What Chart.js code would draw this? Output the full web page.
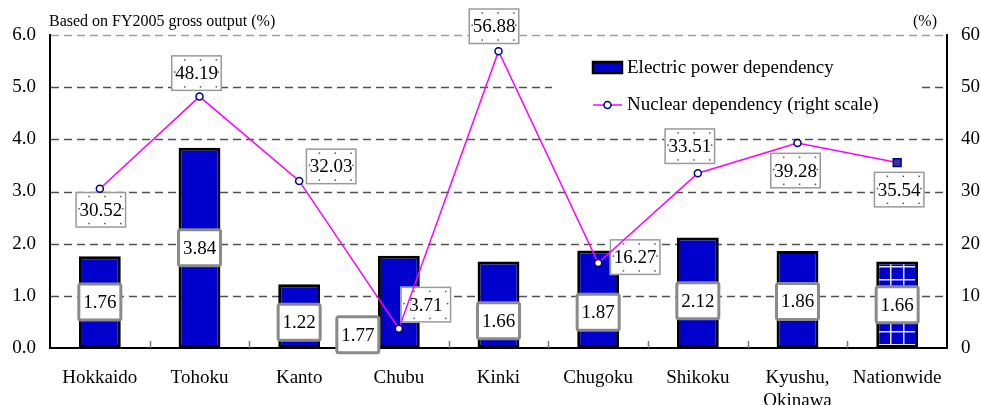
<!DOCTYPE html>
<html>
<head>
<meta charset="utf-8">
<script src="https://cdn.jsdelivr.net/npm/chart.js@4.4.1/dist/chart.umd.min.js"></script>
<style>
  html, body { margin: 0; padding: 0; background: #fff; }
  #wrap { width: 981px; height: 405px; position: relative; }
</style>
</head>
<body>
<div id="wrap"><canvas id="c"></canvas></div>
<script>
// Regions and values
const categories = ['Hokkaido', 'Tohoku', 'Kanto', 'Chubu', 'Kinki', 'Chugoku', 'Shikoku', ['Kyushu,', 'Okinawa'], 'Nationwide'];
const electricPowerDependency = [1.76, 3.84, 1.22, 1.77, 1.66, 1.87, 2.12, 1.86, 1.66];
const nuclearDependency = [30.52, 48.19, 32.03, 3.71, 56.88, 16.27, 33.51, 39.28, 35.54];
const leftTickLabels = ['0.0', '1.0', '2.0', '3.0', '4.0', '5.0', '6.0'];
const rightTickLabels = ['0', '10', '20', '30', '40', '50', '60'];

// Label placement (pixel shifts): bar labels relative to bar middle, line labels relative to point
const barLabelShift = [[0, 0], [0, 0], [0, 6], [-41, 33], [0, 16], [0, 13], [0, 8], [0, 2], [0, 0]];
const lineLabelShift = [[1, 21], [-3, -23.5], [32, -14.5], [27, -24], [-4.5, -25], [37, -6], [-8, -27], [-2, 27.5], [2, 27]];

const SERIF = "'Liberation Serif', 'Times New Roman', Times, serif";
const BLUE = '#0000CC';
const MAGENTA = '#FF00FF';
const NAVY = '#000080';

Chart.defaults.font.family = SERIF;
Chart.defaults.color = '#000';

// Plaid fill for the nationwide bar
function plaidPattern() {
  const t = document.createElement('canvas');
  t.width = 13; t.height = 13;
  const g = t.getContext('2d');
  g.fillStyle = BLUE;
  g.fillRect(0, 0, 13, 13);
  g.fillStyle = 'rgba(225,225,255,1)';
  g.fillRect(6, 0, 1.5, 13);
  g.fillRect(0, 6, 13, 1.5);
  return g.createPattern(t, 'repeat');
}
const barFills = electricPowerDependency.map((_, i) => i === electricPowerDependency.length - 1 ? plaidPattern() : BLUE);

function barLabel(ctx, cx, cy, text) {
  const w = 45, h = 39;
  const x = cx - w / 2, y = cy - h / 2;
  ctx.save();
  ctx.beginPath();
  ctx.roundRect(x + 1.5, y + 1.5, w - 3, h - 3, 2);
  ctx.fillStyle = '#fff';
  ctx.fill();
  ctx.lineWidth = 3;
  ctx.strokeStyle = '#8a8a8a';
  ctx.stroke();
  ctx.fillStyle = '#000';
  ctx.font = '19px ' + SERIF;
  ctx.textAlign = 'center';
  ctx.textBaseline = 'middle';
  ctx.fillText(text, cx, cy + 1);
  ctx.restore();
}

function lineLabel(ctx, cx, cy, text) {
  const w = 51, h = 36;
  const x = cx - w / 2, y = cy - h / 2;
  ctx.save();
  ctx.fillStyle = '#fff';
  ctx.fillRect(x, y, w, h);
  ctx.lineWidth = 1.5;
  ctx.strokeStyle = '#9a9a9a';
  ctx.strokeRect(x + 0.75, y + 0.75, w - 1.5, h - 1.5);
  // dotted texture
  ctx.fillStyle = '#555';
  [0.27, 0.58, 0.89].forEach(f => {
    ctx.fillRect(x + w * f - 0.75, y + 4, 1.5, 1.5);
    ctx.fillRect(x + w * f - 0.75, y + h - 5, 1.5, 1.5);
  });
  ctx.fillRect(x + 3, y + h * 0.45, 1.5, 1.5);
  ctx.fillRect(x + w - 4.5, y + h * 0.45, 1.5, 1.5);
  ctx.fillStyle = '#000';
  ctx.font = '19px ' + SERIF;
  ctx.textAlign = 'center';
  ctx.textBaseline = 'middle';
  ctx.fillText(text, cx, cy + 1);
  ctx.restore();
}

const decorations = {
  id: 'decorations',
  beforeDatasetsDraw(chart) {
    const { ctx, chartArea: a, scales } = chart;
    const y = scales.y, x = scales.x;
    ctx.save();
    // dashed grid
    ctx.setLineDash([8, 5]);
    ctx.lineWidth = 1.5;
    for (let v = 1; v <= 6; v++) {
      const py = Math.round(y.getPixelForValue(v)) + 0.5;
      ctx.strokeStyle = v === 6 ? '#a0a0a0' : '#505050';
      ctx.beginPath();
      ctx.moveTo(a.left + 1, py);
      ctx.lineTo(a.right - 1, py);
      ctx.stroke();
    }
    ctx.setLineDash([]);
    // category separators on the baseline
    ctx.strokeStyle = '#777';
    ctx.lineWidth = 1.5;
    for (let i = 0; i < categories.length - 1; i++) {
      const px = Math.round((x.getPixelForValue(i) + x.getPixelForValue(i + 1)) / 2) + 0.5;
      ctx.beginPath();
      ctx.moveTo(px, a.bottom);
      ctx.lineTo(px, a.bottom - 7);
      ctx.stroke();
    }
    // legend backing
    ctx.fillStyle = '#fff';
    ctx.fillRect(552, 40, 370, 92);
    // axis notes
    ctx.fillStyle = '#000';
    ctx.font = '16px ' + SERIF;
    ctx.textBaseline = 'alphabetic';
    ctx.textAlign = 'left';
    ctx.fillText('Based on FY2005 gross output (%)', 49, 26);
    ctx.textAlign = 'right';
    ctx.fillText('(%)', 937, 26);
    ctx.restore();
  },
  afterDatasetDraw(chart, args) {
    if (args.index !== 0) return;
    const { ctx, scales } = chart;
    const barMeta = chart.getDatasetMeta(0);
    const lineMeta = chart.getDatasetMeta(1);
    electricPowerDependency.forEach((v, i) => {
      const bx = barMeta.data[i].x;
      const my = scales.y.getPixelForValue(v / 2);
      barLabel(ctx, bx + barLabelShift[i][0], my + barLabelShift[i][1], v.toFixed(2));
    });
    nuclearDependency.forEach((v, i) => {
      const p = lineMeta.data[i];
      lineLabel(ctx, p.x + lineLabelShift[i][0], p.y + lineLabelShift[i][1], v.toFixed(2));
    });
  },
  afterDraw(chart) {
    const { ctx } = chart;
    ctx.save();
    // bar legend entry
    ctx.fillStyle = BLUE;
    ctx.fillRect(593, 62, 29, 11);
    ctx.lineWidth = 2.5;
    ctx.strokeStyle = '#000';
    ctx.strokeRect(593, 62, 29, 11);
    // line legend entry
    ctx.strokeStyle = MAGENTA;
    ctx.lineWidth = 1.5;
    ctx.beginPath();
    ctx.moveTo(593, 105);
    ctx.lineTo(622, 105);
    ctx.stroke();
    ctx.beginPath();
    ctx.arc(607.5, 105, 3.5, 0, Math.PI * 2);
    ctx.fillStyle = '#fff';
    ctx.fill();
    ctx.strokeStyle = NAVY;
    ctx.stroke();
    ctx.fillStyle = '#000';
    ctx.font = '19px ' + SERIF;
    ctx.textAlign = 'left';
    ctx.textBaseline = 'middle';
    ctx.fillText('Electric power dependency', 627, 68);
    ctx.fillText('Nuclear dependency (right scale)', 627, 105);
    ctx.restore();
  }
};

const n = categories.length;
new Chart(document.getElementById('c'), {
  type: 'bar',
  data: {
    labels: categories,
    datasets: [
      {
        type: 'bar',
        label: 'Electric power dependency',
        data: electricPowerDependency,
        yAxisID: 'y',
        backgroundColor: barFills,
        borderColor: '#000',
        borderWidth: 3,
        borderSkipped: false,
        categoryPercentage: 1,
        barPercentage: 0.42,
        order: 2
      },
      {
        type: 'line',
        label: 'Nuclear dependency (right scale)',
        data: nuclearDependency,
        yAxisID: 'y1',
        borderColor: MAGENTA,
        borderWidth: 1.5,
        tension: 0,
        fill: false,
        pointStyle: nuclearDependency.map((_, i) => i === n - 1 ? 'rect' : 'circle'),
        pointRadius: nuclearDependency.map((_, i) => i === n - 1 ? 5.5 : 3.5),
        pointBackgroundColor: nuclearDependency.map((_, i) => i === n - 1 ? '#333399' : '#fff'),
        pointBorderColor: NAVY,
        pointBorderWidth: 1.5,
        order: 1
      }
    ]
  },
  options: {
    responsive: true,
    maintainAspectRatio: false,
    devicePixelRatio: 1,
    animation: false,
    layout: { padding: { top: 35, left: 0, right: 0, bottom: 0 } },
    plugins: { legend: { display: false }, tooltip: { enabled: false } },
    scales: {
      x: {
        grid: { display: false },
        border: { display: true, color: '#000', width: 2 },
        ticks: { font: { size: 19 }, padding: 11, maxRotation: 0, autoSkip: false, color: '#000' },
        afterFit: s => { s.height = 57; }
      },
      y: {
        position: 'left',
        min: 0, max: 6,
        grid: { display: false },
        border: { display: true, color: '#000', width: 2 },
        ticks: { stepSize: 1, font: { size: 19 }, padding: 6, color: '#000',
          callback: (v, i) => leftTickLabels[i] },
        afterFit: s => { s.width = 50; }
      },
      y1: {
        position: 'right',
        min: 0, max: 60,
        grid: { display: false },
        border: { display: true, color: '#000', width: 2 },
        ticks: { stepSize: 10, font: { size: 19 }, padding: 6, color: '#000',
          callback: (v, i) => rightTickLabels[i] },
        afterFit: s => { s.width = 34; }
      }
    }
  },
  plugins: [decorations]
});
</script>
</body>
</html>
